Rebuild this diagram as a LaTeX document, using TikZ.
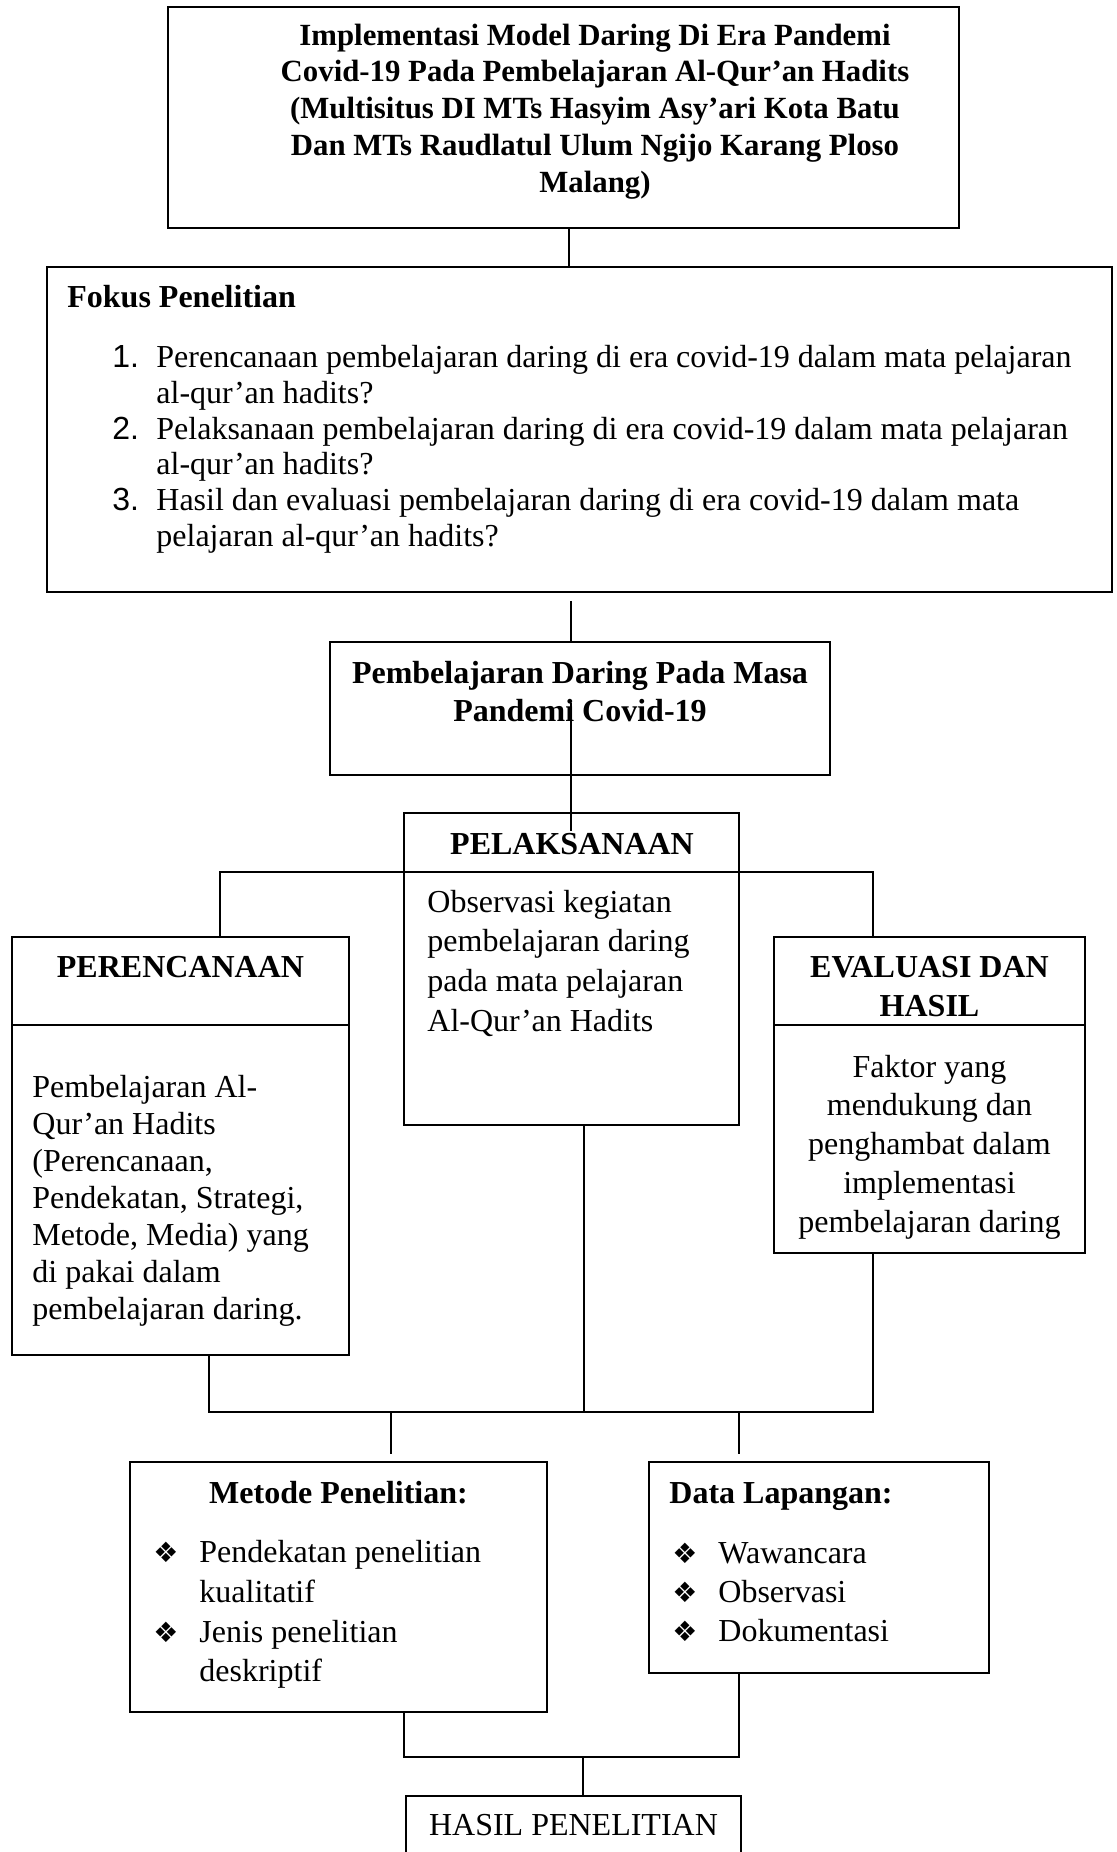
\documentclass[tikz,border=0pt]{standalone}
\usepackage{fontspec}
\setmainfont{Liberation Serif}
\newfontfamily\numfont{Liberation Sans}
\newfontfamily\symfont{DejaVu Sans}
\usetikzlibrary{fit}
\begin{document}
\begin{tikzpicture}[x=0.5pt,y=-0.5pt,
  box/.style={draw, line width=0.9pt, inner sep=0pt},
  link/.style={draw, line width=0.6pt},
  txt/.style={inner sep=0pt, anchor=base, font=\fontsize{16}{18}\selectfont},
  txtl/.style={txt, anchor=base west},
  btxt/.style={txt, font=\fontsize{16}{18}\selectfont\bfseries},
  ttxt/.style={txt, font=\fontsize{15.4}{18}\selectfont\bfseries},
  btxtl/.style={btxt, anchor=base west},
  numtxt/.style={inner sep=0pt, anchor=base west, font=\fontsize{16}{18}\numfont},
  bul/.style={inner sep=0pt, anchor=base west, font=\fontsize{14}{16}\symfont}]
\useasboundingbox (0,0) rectangle (1116,1852);
\clip (0,0) rectangle (1116,1852);
\fill[white] (0,0) rectangle (1116,1852);

% ---------- boxes ----------
\node[box, fit={(168,7) (959,228)}] (T) {};
\node[box, fit={(47,267) (1112,592)}] (F) {};
\node[box, fit={(330,642) (830,775)}] (P) {};
\node[box, fit={(404,813) (739,1125)}] (L) {};
\node[box, fit={(12,937) (349,1355)}] (R) {};
\node[box, fit={(774,937) (1085,1253)}] (E) {};
\node[box, fit={(130,1462) (547,1712)}] (M) {};
\node[box, fit={(649,1462) (989,1673)}] (D) {};
\node[box, fit={(406,1796) (741,1900)}] (H) {};

% header separators
\coordinate (sep) at (0,1025);
\draw[line width=0.9pt] (R.west |- sep) -- (R.east |- sep);
\draw[line width=0.9pt] (E.west |- sep) -- (E.east |- sep);

% ---------- connectors ----------
\coordinate (cA) at (569,0);
\coordinate (cB) at (571,0);
\draw[link] (T.south -| cA) -- (F.north -| cA);
\draw[link] ([yshift=-4pt]F.south -| cB) -- (P.north -| cB);
\coordinate (pa) at (571,703);
\coordinate (pb) at (571,831);
\draw[link] (pa) -- (pb);

\coordinate (hl) at (220,872);
\coordinate (hr) at (873,872);
\draw[link] (R.north -| hl) -- (hl) -- (hr) -- (E.north -| hr);

\coordinate (jl) at (209,1412);
\coordinate (jm) at (584,1412);
\coordinate (jr) at (873,1412);
\draw[link] (R.south -| jl) -- (jl) -- (jr) -- (E.south -| jr);
\draw[link] (L.south -| jm) -- (jm);

\coordinate (dl) at (391,1412);
\coordinate (dr) at (739,1412);
\coordinate (dlb) at (391,1454);
\coordinate (drb) at (739,1454);
\draw[link] (dl) -- (dlb);
\draw[link] (dr) -- (drb);

\coordinate (kl) at (404,1757);
\coordinate (kr) at (739,1757);
\coordinate (km) at (583,1757);
\draw[link] (M.south -| kl) -- (kl) -- (kr) -- (D.south -| kr);
\draw[link] (km) -- (H.north -| km);

% ---------- texts ----------
\foreach \t [count=\i] in {{Implementasi Model Daring Di Era Pandemi},
  {Covid-19 Pada Pembelajaran Al-Qur’an Hadits},
  {(Multisitus DI MTs Hasyim Asy’ari Kota Batu},
  {Dan MTs Raudlatul Ulum Ngijo Karang Ploso},
  {Malang)}}
  \node[ttxt] (title\i) at (595,{45+(\i-1)*36.75}) {\t};

\node[btxtl] (fokus) at (67,307) {Fokus Penelitian};
\node[numtxt] (n1) at (112,367) {1.};
\node[numtxt] (n2) at (112,439) {2.};
\node[numtxt] (n3) at (112,510) {3.};
\node[txtl] (f1) at (156,367) {Perencanaan pembelajaran daring di era covid-19 dalam mata pelajaran};
\node[txtl] (f2) at (156,403) {al-qur’an hadits?};
\node[txtl] (f3) at (156,439) {Pelaksanaan pembelajaran daring di era covid-19 dalam mata pelajaran};
\node[txtl] (f4) at (156,474) {al-qur’an hadits?};
\node[txtl] (f5) at (156,510) {Hasil dan evaluasi pembelajaran daring di era covid-19 dalam mata};
\node[txtl] (f6) at (156,546) {pelajaran al-qur’an hadits?};

\node[btxt] (p1) at (580,683) {Pembelajaran Daring Pada Masa};
\node[btxt] (p2) at (580,721) {Pandemi Covid-19};

\node[btxt] (ltitle) at (572,854) {PELAKSANAAN};
\foreach \t [count=\i] in {{Observasi kegiatan},{pembelajaran daring},
  {pada mata pelajaran},{Al-Qur’an Hadits}}
  \node[txtl] (l\i) at (427,{912+(\i-1)*39.7}) {\t};

\node[btxt] (rtitle) at (180.5,977) {PERENCANAAN};
\foreach \t [count=\i] in {{Pembelajaran Al-},{Qur’an Hadits},{(Perencanaan,},
  {Pendekatan, Strategi,},{Metode, Media) yang},{di pakai dalam},
  {pembelajaran daring.}}
  \node[txtl] (r\i) at (32,{1097+(\i-1)*37.1}) {\t};

\node[btxt] (et1) at (929.5,977) {EVALUASI DAN};
\node[btxt] (et2) at (929.5,1016) {HASIL};
\foreach \t [count=\i] in {{Faktor yang},{mendukung dan},{penghambat dalam},
  {implementasi},{pembelajaran daring}}
  \node[txt] (e\i) at (929.5,{1077+(\i-1)*38.8}) {\t};

\node[btxt] (mtitle) at (338.5,1503) {Metode Penelitian:};
\node[bul] (mb1) at (153,1562) {❖};
\node[bul] (mb2) at (153,1642) {❖};
\node[txtl] (m1) at (199,1562) {Pendekatan penelitian};
\node[txtl] (m2) at (199,1602) {kualitatif};
\node[txtl] (m3) at (199,1642) {Jenis penelitian};
\node[txtl] (m4) at (199,1681) {deskriptif};

\node[btxtl] (dtitle) at (669,1503) {Data Lapangan:};
\foreach \t [count=\i] in {{Wawancara},{Observasi},{Dokumentasi}} {
  \node[bul] (db\i) at (672,{1563+(\i-1)*39}) {❖};
  \node[txtl] (d\i) at (718,{1563+(\i-1)*39}) {\t};
}

\node[txt] (htext) at (573.5,1835) {HASIL PENELITIAN};
\end{tikzpicture}
\end{document}
